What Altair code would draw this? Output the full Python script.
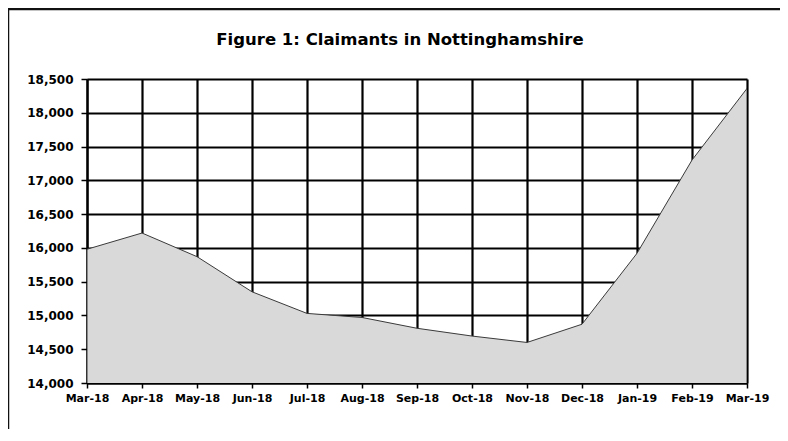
import altair as alt
import pandas as pd

months = ["Mar-18", "Apr-18", "May-18", "Jun-18", "Jul-18", "Aug-18", "Sep-18",
          "Oct-18", "Nov-18", "Dec-18", "Jan-19", "Feb-19", "Mar-19"]
claimants = [15980, 16220, 15870, 15350, 15030, 14970, 14810,
             14695, 14600, 14870, 15920, 17300, 18360]
y_ticks = [14000, 14500, 15000, 15500, 16000, 16500, 17000, 17500, 18000, 18500]
title_text = ["Figure 1: Claimants in Nottinghamshire"]

df = pd.DataFrame({"month": months, "claimants": claimants})

FONT = "DejaVu Sans"

x_enc = alt.X("month:N", sort=months, title=None,
              scale=alt.Scale(type="point", padding=0),
              axis=alt.Axis(labelAngle=0, labelFont=FONT, labelFontWeight="bold",
                            labelFontSize=11, labelColor="black", labelPadding=4,
                            labelOverlap=False,
                            tickSize=5, tickColor="black", tickWidth=1.5,
                            domainColor="black", domainWidth=2,
                            grid=True, gridColor="black", gridWidth=2.2, gridOpacity=1))
y_enc = alt.Y("claimants:Q", title=None,
              scale=alt.Scale(domain=[14000, 18500], zero=False, nice=False),
              axis=alt.Axis(values=y_ticks, format=",.0f", labelFont=FONT,
                            labelFontWeight="bold", labelFontSize=12, labelColor="black",
                            labelPadding=8, tickSize=6, tickColor="black", tickWidth=1.5,
                            domainColor="black", domainWidth=2,
                            grid=True, gridColor="black", gridWidth=2, gridOpacity=1))

area = alt.Chart(df).mark_area(color="#d9d9d9", stroke="#3a3a3a", strokeWidth=1,
                               opacity=1, clip=True).encode(x=x_enc, y=y_enc)

title = alt.Chart(pd.DataFrame({"t": title_text})).mark_text(
    font=FONT, fontWeight="bold", fontSize=16.5, color="black",
    align="center", baseline="middle").encode(
    text="t:N", x=alt.value(313), y=alt.value(-39))

left_border = alt.Chart(pd.DataFrame({"k": [0]})).mark_rule(
    color="#111111", strokeWidth=2.5).encode(
    x=alt.value(-79), y=alt.value(-70), y2=alt.value(400))
top_border = alt.Chart(pd.DataFrame({"k": [0]})).mark_rule(
    color="#111111", strokeWidth=2.5).encode(
    x=alt.value(-80), x2=alt.value(720), y=alt.value(-70))

chart = alt.layer(area, title, left_border, top_border).properties(
    width=660, height=304,
    autosize=alt.AutoSizeParams(type="none"),
    padding={"left": 79, "top": 71, "right": 33, "bottom": 46},
).configure_view(stroke=None).configure(background="white")

chart.save("out.html", embed_options={"renderer": "svg", "actions": False})
